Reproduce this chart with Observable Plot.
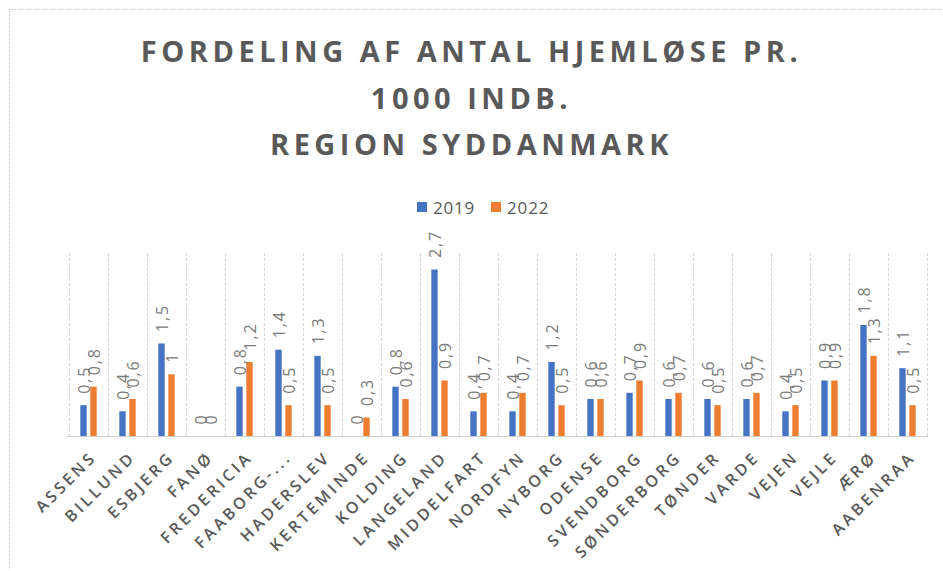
<!DOCTYPE html>
<html>
<head>
<meta charset="utf-8">
<script src="https://cdn.jsdelivr.net/npm/d3@7"></script>
<script src="https://cdn.jsdelivr.net/npm/@observablehq/plot@0.6"></script>
<style>
  html, body { margin: 0; padding: 0; background: #fff; }
  #wrap { position: relative; width: 943px; height: 571px; overflow: hidden; background: #fff; font-family: "Open Sans", sans-serif; }
  #frame { position: absolute; left: 9px; top: 9px; right: -5px; bottom: -5px; border-left: 1px dotted #c4c4c4; border-top: 1px dotted #c4c4c4; }
  #title { position: absolute; left: 0; top: 28px; width: 943px; text-align: center; font-weight: 700; font-size: 29px; line-height: 46.5px; letter-spacing: 4.5px; color: #595959; }
  #legend { position: absolute; left: 417px; top: 195px; height: 24px; display: flex; align-items: center; font-size: 17px; color: #595959; letter-spacing: 0.8px; }
  #legend .sw { display: inline-block; width: 10px; height: 10px; margin-right: 6px; }
  #legend .item { display: flex; align-items: center; margin-right: 16px; }
  #chart { position: absolute; left: 0; top: 219px; }
</style>
</head>
<body>
<div id="wrap">
  <div id="frame"></div>
  <div id="title"></div>
  <div id="legend"></div>
  <div id="chart"></div>
</div>
<script>
const titleLines = ["FORDELING AF ANTAL HJEMLØSE PR.", "1000 INDB.", "REGION SYDDANMARK"];
const categories = ["ASSENS", "BILLUND", "ESBJERG", "FANØ", "FREDERICIA", "FAABORG-...", "HADERSLEV", "KERTEMINDE", "KOLDING", "LANGELAND", "MIDDELFART", "NORDFYN", "NYBORG", "ODENSE", "SVENDBORG", "SØNDERBORG", "TØNDER", "VARDE", "VEJEN", "VEJLE", "ÆRØ", "AABENRAA"];
const series = ["2019", "2022"];
const v2019 = [0.5, 0.4, 1.5, 0, 0.8, 1.4, 1.3, 0, 0.8, 2.7, 0.4, 0.4, 1.2, 0.6, 0.7, 0.6, 0.6, 0.6, 0.4, 0.9, 1.8, 1.1];
const v2022 = [0.8, 0.6, 1.0, 0, 1.2, 0.5, 0.5, 0.3, 0.6, 0.9, 0.7, 0.7, 0.5, 0.6, 0.9, 0.7, 0.5, 0.7, 0.5, 0.9, 1.3, 0.5];
const colors = ["#4472c4", "#ed7d31"];

document.getElementById("title").innerHTML = titleLines.map(t => `<div>${t}</div>`).join("");
document.getElementById("legend").innerHTML = series.map((s, i) =>
  `<span class="item"><span class="sw" style="background:${colors[i]}"></span>${s}</span>`).join("");

const rows2019 = categories.map((c, i) => ({cat: c, value: v2019[i]}));
const rows2022 = categories.map((c, i) => ({cat: c, value: v2022[i]}));
const fmt = v => String(v).replace(".", ",");

const W = 943, H = 352, mL = 67, mR = 15, mT = 32, mB = 135;
const step = (W - mL - mR) / categories.length;
const barW = 6.5;
const inset = (step - barW) / 2;
const off = 5;
const grey = "#595959";

const labelStyle = {fontSize: 16, fill: "#7a7a7a", rotate: -90, textAnchor: "start", lineAnchor: "middle", fontFamily: "Open Sans"};

const plot = Plot.plot({
  width: W, height: H,
  marginLeft: mL, marginRight: mR, marginTop: mT, marginBottom: mB,
  style: {fontFamily: "Open Sans", background: "transparent"},
  x: {type: "band", domain: categories, padding: 0, axis: null},
  y: {domain: [0, 3], axis: null},
  marks: [
    Plot.ruleX(categories, {x: d => d, y1: 0, y2: 3, dx: -step / 2, stroke: "#d4d4d4", strokeDasharray: "3,2"}),
    Plot.ruleX([categories[categories.length - 1]], {x: d => d, y1: 0, y2: 3, dx: step / 2, stroke: "#d4d4d4", strokeDasharray: "3,2"}),
    Plot.ruleY([0], {stroke: "#d0d0d0"}),
    Plot.barY(rows2019, {x: "cat", y: "value", fill: colors[0], insetLeft: inset, insetRight: inset, dx: -off}),
    Plot.barY(rows2022, {x: "cat", y: "value", fill: colors[1], insetLeft: inset, insetRight: inset, dx: off}),
    Plot.text(rows2019, {x: "cat", y: "value", text: d => fmt(d.value), dx: -off + 1, dy: -12, ...labelStyle}),
    Plot.text(rows2022, {x: "cat", y: "value", text: d => fmt(d.value), dx: off + 1, dy: -12, ...labelStyle}),
    Plot.text(categories, {x: d => d, y: 0, text: d => d, rotate: -45, textAnchor: "end", lineAnchor: "middle", dx: 5, dy: 18, fontSize: 16, fontWeight: 600, fill: grey, fontFamily: "Open Sans"})
  ]
});
const textGroups = plot.querySelectorAll('g[aria-label="text"]');
textGroups.forEach((g, i) => {
  const ls = i === textGroups.length - 1 ? "3.3px" : "1.8px";
  g.setAttribute("letter-spacing", ls);
  g.style.letterSpacing = ls;
});
document.getElementById("chart").appendChild(plot);
</script>
</body>
</html>
